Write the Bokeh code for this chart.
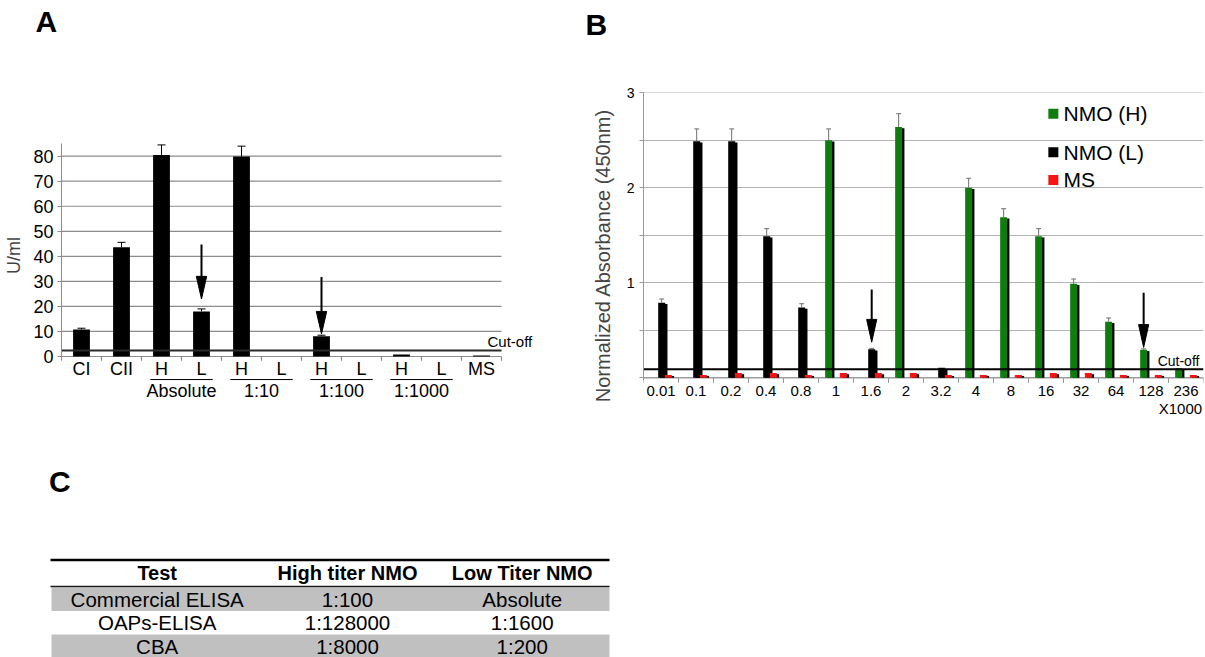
from bokeh.plotting import figure
from bokeh.models import Range1d, FixedTicker
from bokeh.layouts import column, row
from bokeh.embed import file_html
from bokeh.resources import INLINE
from bokeh.core.properties import value

FONT = "Liberation Sans"

# ---------------- Panel A data ----------------
a_labels = ["CI", "CII", "H", "L", "H", "L", "H", "L", "H", "L", "MS"]
a_values = [10.8, 43.6, 80.5, 18.0, 79.9, 0.0, 8.1, 0.0, 0.8, 0.0, 0.4]
a_errors = [0.5, 2.0, 4.0, 1.0, 4.1, 0.0, 0.4, 0.0, 0.0, 0.0, 0.0]
a_groups = ["Absolute", "1:10", "1:100", "1:1000"]
a_group_first = [2, 4, 6, 8]
a_yticks = [0, 10, 20, 30, 40, 50, 60, 70, 80]
a_cutoff = 2.4
a_arrow_cat = [3, 6]
a_arrow_from = [44.7, 31.7]
a_arrow_to = [23.0, 9.0]

# ---------------- Panel B data ----------------
b_labels = ["0.01", "0.1", "0.2", "0.4", "0.8", "1", "1.6", "2", "3.2", "4",
            "8", "16", "32", "64", "128", "236"]
b_high = [0, 0, 0, 0, 0, 2.50, 0, 2.64, 0, 2.00, 1.69, 1.49, 0.99, 0.59, 0.295, 0.10]
b_high_err = [0, 0, 0, 0, 0, 0.12, 0, 0.14, 0, 0.10, 0.09, 0.08, 0.05, 0.04, 0.01, 0]
b_low = [0.79, 2.49, 2.49, 1.49, 0.74, 0, 0.30, 0, 0.105, 0, 0, 0, 0, 0, 0, 0]
b_low_err = [0.04, 0.13, 0.13, 0.08, 0.04, 0, 0.01, 0, 0, 0, 0, 0, 0, 0, 0, 0]
b_ms = [0.03, 0.03, 0.05, 0.05, 0.03, 0.05, 0.05, 0.05, 0.03, 0.03, 0.03, 0.05, 0.05,
        0.03, 0.03, 0.03]
b_cutoff = 0.09
b_yticks = [0, 0.5, 1, 1.5, 2, 2.5, 3]
b_ytick_labels = ["", "", "1", "", "2", "", "3"]
b_series = ["NMO (H)", "NMO (L)", "MS"]
b_colors = ["#0e7d0e", "#000000", "#f51414"]
b_arrow_cat = [6, 14]
b_arrow_series = [1, 0]
b_arrow_from = [0.93, 0.895]
b_arrow_to = [0.375, 0.32]
b_unit = "X1000"

# ---------------- Panel C data ----------------
c_header = ["Test", "High titer NMO", "Low Titer NMO"]
c_test = ["Commercial ELISA", "OAPs-ELISA", "CBA"]
c_high = ["1:100", "1:128000", "1:8000"]
c_low = ["Absolute", "1:1600", "1:200"]

panel_letters = ["A", "B", "C"]


def txt(p, x, y, t, size, align="center", baseline="middle", style="normal", color="black"):
    p.text(x=x, y=y, text=t, text_font=value(FONT), text_font_size=size,
           text_align=align, text_baseline=baseline, text_font_style=style,
           text_color=color)


def blank(p):
    p.outline_line_color = None
    p.grid.visible = False


# ---------------- header with panel letters ----------------
hdr = figure(width=1205, height=40, x_range=Range1d(0, 1205), y_range=Range1d(40, 0),
             x_axis_location=None, y_axis_location=None, output_backend="svg",
             toolbar_location=None, min_border=0)
blank(hdr)
txt(hdr, [45.8, 595.8], [21.3, 23.8], panel_letters[:2], "30px", style="bold")

# ---------------- Panel A ----------------
na = len(a_labels)
a_x = [i + 0.5 for i in range(na)]
pa = figure(width=580, height=390, x_range=Range1d(0, 12), y_range=Range1d(-24.76, 105.43),
            x_axis_location=None, output_backend="svg", toolbar_location=None,
            min_border_left=61, min_border_right=39, min_border_top=52, min_border_bottom=12)
blank(pa)
GA = "#8c8c8c"
gt = [t for t in a_yticks if t > 0]
pa.segment(x0=[0] * len(gt), y0=gt, x1=[na] * len(gt), y1=gt, line_color=GA, line_width=1.2)
pa.segment(x0=[0], y0=[0], x1=[na], y1=[0], line_color=GA, line_width=1.2)
bx = list(range(na + 1))
pa.segment(x0=bx, y0=[0] * len(bx), x1=bx, y1=[-1.7] * len(bx), line_color=GA, line_width=1.2)
pa.vbar(x=a_x, top=a_values, width=0.42, fill_color="black", line_color=None)
ex = [a_x[i] for i in range(na) if a_errors[i] > 0]
ev = [a_values[i] for i in range(na) if a_errors[i] > 0]
et = [a_values[i] + a_errors[i] for i in range(na) if a_errors[i] > 0]
pa.segment(x0=ex, y0=ev, x1=ex, y1=et, line_color="black", line_width=1)
pa.segment(x0=[x - 0.1 for x in ex], y0=et, x1=[x + 0.1 for x in ex], y1=et,
           line_color="black", line_width=1)
pa.segment(x0=[0], y0=[a_cutoff], x1=[na], y1=[a_cutoff], line_color="#2a2a2a", line_width=2)
txt(pa, [10.65], [6.0], ["Cut-off"], "15px", align="left")
# arrows
ax = [c + 0.5 for c in a_arrow_cat]
ahead = 9.0
pa.segment(x0=ax, y0=a_arrow_from, x1=ax, y1=[t + ahead for t in a_arrow_to],
           line_color="black", line_width=2)
pa.patches(xs=[[x - 0.13, x + 0.13, x] for x in ax],
           ys=[[t + ahead, t + ahead, t] for t in a_arrow_to],
           fill_color="black", line_color="black")
# category labels
txt(pa, a_x, [-4.8] * na, a_labels, "18px")
gx = [g + 1 for g in a_group_first]
pa.segment(x0=[g + 0.22 for g in a_group_first], y0=[-9.2] * 4,
           x1=[g + 1.78 for g in a_group_first], y1=[-9.2] * 4, line_color="black", line_width=1)
txt(pa, gx, [-13.8] * len(gx), a_groups, "18px")
ya = pa.yaxis[0]
ya.ticker = FixedTicker(ticks=a_yticks)
ya.bounds = (-1.7, 85.1)
ya.axis_line_color = GA
ya.major_tick_line_color = GA
ya.major_tick_out = 4
ya.major_tick_in = 0
ya.minor_tick_line_color = None
ya.major_label_text_font = FONT
ya.major_label_text_font_size = "18px"
ya.major_label_text_color = "black"
ya.major_label_standoff = 4
ya.axis_label = "U/ml"
ya.axis_label_text_font = FONT
ya.axis_label_text_font_size = "18px"
ya.axis_label_text_font_style = "normal"
ya.axis_label_standoff = 6

# ---------------- Panel B ----------------
nb = len(b_labels)
pb = figure(width=625, height=390, x_range=Range1d(0, nb), y_range=Range1d(-0.428, 3.003),
            x_axis_location=None, output_backend="svg", toolbar_location=None,
            min_border_left=63, min_border_right=2, min_border_top=52, min_border_bottom=12)
pb.outline_line_color = None
pb.xgrid.visible = False
pb.ygrid.grid_line_color = "#b4b4b4"
pb.ygrid.grid_line_width = 1

GB = "#999999"
# x axis drawn with the plot's own scales
pb.segment(x0=[0], y0=[0], x1=[nb], y1=[0], line_color=GB, line_width=1.2)
bb = list(range(nb + 1))
pb.segment(x0=bb, y0=[0] * len(bb), x1=bb, y1=[-0.053] * len(bb), line_color=GB, line_width=1)
centers = [i + 0.5 for i in range(nb)]
txt(pb, centers, [-0.134] * nb, b_labels, "15px")
txt(pb, [nb - 0.04], [-0.323], [b_unit], "15px", align="right")

slot_off = [0.29, 0.52, 0.71]
bw = 0.2
sh = 0.065
series_vals = [b_high, b_low, b_ms]
series_err = [b_high_err, b_low_err, [0] * nb]
for s, vals in enumerate(series_vals):
    idx = [i for i in range(nb) if vals[i] > 0]
    xs = [i + slot_off[s] for i in idx]
    tops = [vals[i] for i in idx]
    pb.vbar(x=[x + sh for x in xs], top=[t - 0.012 for t in tops], width=bw,
            fill_color="black", line_color=None)
    pb.vbar(x=xs, top=tops, width=bw, fill_color=b_colors[s], line_color=None)
for s in range(2):
    vals, errs = series_vals[s], series_err[s]
    idx = [i for i in range(nb) if errs[i] > 0]
    xs = [i + slot_off[s] for i in idx]
    v0 = [vals[i] for i in idx]
    v1 = [vals[i] + errs[i] for i in idx]
    pb.segment(x0=xs, y0=v0, x1=xs, y1=v1, line_color="#6e6e6e", line_width=1)
    pb.segment(x0=[x - 0.07 for x in xs], y0=v1, x1=[x + 0.07 for x in xs], y1=v1,
               line_color="#6e6e6e", line_width=1)
pb.segment(x0=[0], y0=[b_cutoff], x1=[nb], y1=[b_cutoff], line_color="black", line_width=2)
txt(pb, [14.69], [0.18], ["Cut-off"], "14px", align="left")
# arrows
bax = [c + slot_off[s] for c, s in zip(b_arrow_cat, b_arrow_series)]
bhead = 0.24
pb.segment(x0=bax, y0=b_arrow_from, x1=bax, y1=[t + bhead for t in b_arrow_to],
           line_color="black", line_width=2)
pb.patches(xs=[[x - 0.145, x + 0.145, x] for x in bax],
           ys=[[t + bhead, t + bhead, t] for t in b_arrow_to],
           fill_color="black", line_color="black")
# legend
leg_y = [2.78, 2.374, 2.083]
pb.scatter(x=[11.71] * 3, y=leg_y, marker="square", size=10, fill_color=b_colors,
           line_color=None)
txt(pb, [12.0] * 3, leg_y, b_series, "21px", align="left")

yb = pb.yaxis[0]
yb.ticker = FixedTicker(ticks=b_yticks)
yb.bounds = (-0.03, 3.003)
yb.major_label_overrides = {t: l for t, l in zip(b_yticks, b_ytick_labels)}
yb.axis_line_color = GB
yb.major_tick_line_color = GB
yb.major_tick_out = 4
yb.major_tick_in = 0
yb.minor_tick_line_color = None
yb.major_label_text_font = FONT
yb.major_label_text_font_size = "14px"
yb.major_label_text_color = "black"
yb.major_label_standoff = 5
yb.axis_label = "Normalized Absorbance (450nm)"
yb.axis_label_text_font = FONT
yb.axis_label_text_font_size = "20px"
yb.axis_label_text_font_style = "normal"
yb.axis_label_standoff = 10

# ---------------- Panel C (table) ----------------
pc = figure(width=640, height=227, x_range=Range1d(0, 640), y_range=Range1d(227, 0),
            x_axis_location=None, y_axis_location=None, output_backend="svg",
            toolbar_location=None, min_border=0)
blank(pc)
txt(pc, [59.3], [51.0], panel_letters[2:], "30px", style="bold")
tl, tr = 51, 609
col_x = [156.7, 347, 521.7]
row_top = 157
row_h = 23.5
nrows = len(c_test)
gray_rows = [i for i in range(nrows) if i % 2 == 0]
pc.quad(left=[tl] * len(gray_rows), right=[tr] * len(gray_rows),
        top=[row_top + i * row_h for i in gray_rows],
        bottom=[row_top + (i + 1) * row_h for i in gray_rows],
        fill_color="#c0c0c0", line_color=None)
pc.segment(x0=[tl - 1], y0=[129.5], x1=[tr], y1=[129.5], line_color="black", line_width=2.5)
pc.segment(x0=[tl - 1], y0=[156], x1=[tr], y1=[156], line_color="#1a1a1a", line_width=1.5)
txt(pc, col_x, [142.3] * 3, c_header, "20px", style="bold")
ry = [row_top + (i + 0.5) * row_h for i in range(nrows)]
for cx, colvals in zip(col_x, [c_test, c_high, c_low]):
    txt(pc, [cx] * nrows, ry, colvals, "20.5px")

layout = column(hdr, row(pa, pb), pc)
open("out.html", "w").write(file_html(layout, INLINE))
